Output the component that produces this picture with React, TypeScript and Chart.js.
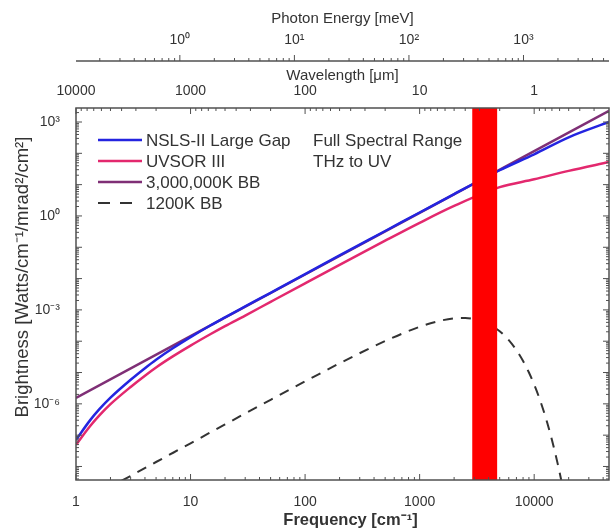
import React, { useEffect, useRef } from 'react';
import { Chart, registerables } from 'chart.js';

Chart.register(...registerables);

// ---------- data ----------
const FREQ = [1, 1.33, 1.6, 2, 3, 4, 5, 7, 10, 15, 20, 30, 50, 100, 200, 500, 1000, 2000, 5000, 10000, 20000, 45000];
const NSLS_II = [7.08e-8, 3.02e-7, 6.76e-7, 1.58e-6, 5.89e-6, 1.38e-5, 2.57e-5, 5.96e-5, 1.35e-4, 3.24e-4, 5.79e-4, 1.29e-3, 3.52e-3, 1.38e-2, 5.5e-2, 0.331, 1.29, 5.01, 28.8, 93.3, 324, 1000];
const UVSOR_III = [4.9e-8, 1.95e-7, 4.27e-7, 9.77e-7, 3.47e-6, 7.94e-6, 1.45e-5, 3.27e-5, 7.24e-5, 1.7e-4, 3.04e-4, 6.61e-4, 1.81e-3, 7.08e-3, 2.75e-2, 0.162, 0.603, 2.09, 8.32, 14.8, 27.5, 52.5];
const FREQ_BB = [1, 10, 100, 1000, 10000, 45000];
const BB_3MK = [1.55e-6, 1.45e-4, 1.35e-2, 1.26, 117, 2290];
const FREQ_1200 = [2.5, 3, 5, 10, 20, 50, 100, 200, 500, 1000, 1500, 2000, 2500, 3000, 4000, 5000, 6000, 7000, 8000, 9000, 10000, 11000, 12000, 13000, 14000, 15000, 16000, 17000, 18000];
const BB_1200 = [3.5e-9, 5.0e-9, 1.39e-8, 5.5e-8, 2.2e-7, 1.35e-6, 5.2e-6, 1.97e-5, 1.01e-4, 2.88e-4, 4.47e-4, 5.33e-4, 5.47e-4, 5.07e-4, 3.56e-4, 2.08e-4, 1.08e-4, 5.18e-5, 2.33e-5, 1.0e-5, 4.13e-6, 1.66e-6, 6.5e-7, 2.49e-7, 9.4e-8, 3.48e-8, 1.28e-8, 4.61e-9, 1.65e-9];

const SERIES_NAMES = ['NSLS-II Large Gap', 'UVSOR III', '3,000,000K BB', '1200K BB'];
const NOTE_LINES = ['Full Spectral Range', 'THz to UV'];
const X_TITLE = 'Frequency [cm⁻¹]';
const Y_TITLE = 'Brightness [Watts/cm⁻¹/mrad²/cm²]';

const FREQ_RANGE = [1, 45000];
const BRIGHT_RANGE = [3.7e-9, 2800];
const BAND = [2880, 4750];
const UM_PER_INV_CM = 10000; // wavelength[um] = 10000 / freq[cm-1]
const MEV_PER_INV_CM = 0.12398;

const FREQ_LABELS = [1, 10, 100, 1000, 10000];
const WAVELENGTH_LABELS = [10000, 1000, 100, 10, 1];
const ENERGY_LABELS = [1, 10, 100, 1000];
const BRIGHT_LABELS = [1e3, 1, 1e-3, 1e-6];

// ---------- styles ----------
const FAMILY = "'Liberation Sans', Arial, Helvetica, sans-serif";
const TEXT = '#333333';
const BLUE = '#2424e0';
const PINK = '#e3286e';
const PURPLE = '#7f2f76';
const DASH = '#333333';
const FRAME = '#505050';

const SUP: Record<string, string> = { '-': '⁻', '0': '⁰', '1': '¹', '2': '²', '3': '³', '4': '⁴', '5': '⁵', '6': '⁶', '7': '⁷', '8': '⁸', '9': '⁹' };
const sup = (n: number) => String(n).split('').map((c) => SUP[c] || c).join('');
const near = (v: number, list: number[]) => list.find((l) => Math.abs(Math.log10(v) - Math.log10(l)) < 1e-6);

const logTicks = (min: number, max: number) => {
  const out: { v: number; major: boolean }[] = [];
  for (let e = Math.floor(Math.log10(min)); e <= Math.ceil(Math.log10(max)); e++) {
    for (let k = 1; k < 10; k++) {
      const v = k * Math.pow(10, e);
      if (v >= min * (1 - 1e-9) && v <= max * (1 + 1e-9)) out.push({ v, major: k === 1 });
    }
  }
  return out;
};

const zeroPad = (s: any) => {
  s.paddingLeft = 0;
  s.paddingRight = 0;
  s.paddingTop = 0;
  s.paddingBottom = 0;
};

const decorPlugin = {
  id: 'decor',
  afterDatasetsDraw(chart: any) {
    const { ctx, chartArea: ca, scales } = chart;
    const x = scales.x, y = scales.y, x2 = scales.x2, x3 = scales.x3;
    ctx.save();

    // legend
    const rows = [
      { color: BLUE, dash: [] as number[], width: 2.5 },
      { color: PINK, dash: [], width: 2.5 },
      { color: PURPLE, dash: [], width: 2.5 },
      { color: DASH, dash: [12, 10], width: 2 },
    ];
    ctx.font = `17px ${FAMILY}`;
    ctx.textBaseline = 'middle';
    ctx.textAlign = 'left';
    rows.forEach((r, i) => {
      const yy = ca.top + 32 + i * 21;
      ctx.beginPath();
      ctx.setLineDash(r.dash);
      ctx.strokeStyle = r.color;
      ctx.lineWidth = r.width;
      ctx.moveTo(ca.left + 22, yy);
      ctx.lineTo(ca.left + 66, yy);
      ctx.stroke();
      ctx.setLineDash([]);
      ctx.fillStyle = TEXT;
      ctx.fillText(SERIES_NAMES[i], ca.left + 70, yy + 1);
    });
    NOTE_LINES.forEach((t, i) => {
      ctx.fillText(t, ca.left + 237, ca.top + 33 + i * 21);
    });

    // red band
    const b0 = x.getPixelForValue(BAND[0]);
    const b1 = x.getPixelForValue(BAND[1]);
    ctx.fillStyle = '#ff0000';
    ctx.fillRect(b0, ca.top, b1 - b0, ca.bottom - ca.top);

    // frame
    ctx.strokeStyle = FRAME;
    ctx.lineWidth = 1.5;
    ctx.strokeRect(ca.left, ca.top, ca.right - ca.left, ca.bottom - ca.top);
    // energy axis line
    ctx.beginPath();
    ctx.moveTo(ca.left, x3.bottom);
    ctx.lineTo(ca.right, x3.bottom);
    ctx.stroke();

    // ticks
    ctx.lineWidth = 1;
    ctx.beginPath();
    for (const t of logTicks(x.min, x.max)) {
      const p = x.getPixelForValue(t.v);
      const l = t.major ? 6 : 3;
      ctx.moveTo(p, ca.bottom);
      ctx.lineTo(p, ca.bottom - l);
    }
    for (const t of logTicks(x2.min, x2.max)) {
      const p = x2.getPixelForValue(t.v);
      const l = t.major ? 6 : 3;
      ctx.moveTo(p, ca.top);
      ctx.lineTo(p, ca.top + l);
    }
    for (const t of logTicks(x3.min, x3.max)) {
      const p = x3.getPixelForValue(t.v);
      const l = t.major ? 6 : 3;
      ctx.moveTo(p, x3.bottom);
      ctx.lineTo(p, x3.bottom - l);
    }
    for (const t of logTicks(y.min, y.max)) {
      const p = y.getPixelForValue(t.v);
      const l = t.major ? 6 : 3;
      ctx.moveTo(ca.left, p);
      ctx.lineTo(ca.left + l, p);
      ctx.moveTo(ca.right, p);
      ctx.lineTo(ca.right - l, p);
    }
    ctx.stroke();

    // x title
    ctx.fillStyle = TEXT;
    ctx.textAlign = 'center';
    ctx.textBaseline = 'middle';
    ctx.font = `bold 16.5px ${FAMILY}`;
    ctx.fillText(X_TITLE, (ca.left + ca.right) / 2 + 8, ca.bottom + 40);

    // y title
    ctx.translate(23, (ca.top + ca.bottom) / 2 - 17);
    ctx.rotate(-Math.PI / 2);
    ctx.font = `18.5px ${FAMILY}`;
    ctx.fillText(Y_TITLE, 0, 0);
    ctx.restore();
  },
};

export default function App() {
  const ref = useRef<HTMLCanvasElement>(null);

  useEffect(() => {
    document.body.style.margin = '0';
    const tickFont = { family: FAMILY, size: 14 };
    const chart = new Chart(ref.current as HTMLCanvasElement, {
      type: 'line',
      data: {
        datasets: [
          {
            label: SERIES_NAMES[0],
            data: FREQ.map((f, i) => ({ x: f, y: NSLS_II[i] })),
            borderColor: BLUE,
            borderWidth: 2.5,
            pointRadius: 0,
            cubicInterpolationMode: 'monotone',
          },
          {
            label: SERIES_NAMES[1],
            data: FREQ.map((f, i) => ({ x: f, y: UVSOR_III[i] })),
            borderColor: PINK,
            borderWidth: 2.5,
            pointRadius: 0,
            cubicInterpolationMode: 'monotone',
          },
          {
            label: SERIES_NAMES[2],
            data: FREQ_BB.map((f, i) => ({ x: f, y: BB_3MK[i] })),
            borderColor: PURPLE,
            borderWidth: 2.5,
            pointRadius: 0,
          },
          {
            label: SERIES_NAMES[3],
            data: FREQ_1200.map((f, i) => ({ x: f, y: BB_1200[i] })),
            borderColor: DASH,
            borderWidth: 2,
            borderDash: [10, 8],
            pointRadius: 0,
            cubicInterpolationMode: 'monotone',
          },
        ] as any,
      },
      options: {
        responsive: false,
        animation: false,
        devicePixelRatio: 1,
        events: [],
        layout: { padding: { left: 0, right: 2, top: 0, bottom: 0 } },
        plugins: { legend: { display: false }, tooltip: { enabled: false } },
        scales: {
          x: {
            type: 'logarithmic',
            position: 'bottom',
            min: FREQ_RANGE[0],
            max: FREQ_RANGE[1],
            grid: { display: false },
            border: { display: false },
            ticks: {
              autoSkip: false,
              maxRotation: 0,
              padding: 6,
              color: TEXT,
              font: tickFont,
              callback: (v: any) => {
                const m = near(Number(v), FREQ_LABELS);
                return m ? String(m) : '';
              },
            },
            title: { display: false },
            afterFit: (s: any) => {
              s.height = 51;
              zeroPad(s);
            },
          },
          x2: {
            type: 'logarithmic',
            axis: 'x',
            position: 'top',
            weight: 0,
            reverse: true,
            min: UM_PER_INV_CM / FREQ_RANGE[1],
            max: UM_PER_INV_CM / FREQ_RANGE[0],
            grid: { display: false },
            border: { display: false },
            ticks: {
              autoSkip: false,
              maxRotation: 0,
              padding: 0,
              color: TEXT,
              font: tickFont,
              callback: (v: any) => {
                const m = near(Number(v), WAVELENGTH_LABELS);
                return m ? String(m) : '';
              },
            },
            title: {
              display: true,
              text: 'Wavelength [μm]',
              color: TEXT,
              font: { family: FAMILY, size: 15 },
              padding: { top: 6, bottom: 0 },
            },
            afterFit: (s: any) => {
              s.height = 47;
              zeroPad(s);
            },
          },
          x3: {
            type: 'logarithmic',
            axis: 'x',
            position: 'top',
            weight: 1,
            min: MEV_PER_INV_CM * FREQ_RANGE[0],
            max: MEV_PER_INV_CM * FREQ_RANGE[1],
            grid: { display: false },
            border: { display: false },
            ticks: {
              autoSkip: false,
              maxRotation: 0,
              padding: 4,
              color: TEXT,
              font: tickFont,
              callback: (v: any) => {
                const m = near(Number(v), ENERGY_LABELS);
                return m ? '10' + sup(Math.round(Math.log10(m))) : '';
              },
            },
            title: {
              display: true,
              text: 'Photon Energy [meV]',
              color: TEXT,
              font: { family: FAMILY, size: 15 },
              padding: { top: 10, bottom: 0 },
            },
            afterFit: (s: any) => {
              s.height = 61;
              zeroPad(s);
            },
          },
          y: {
            type: 'logarithmic',
            position: 'left',
            min: BRIGHT_RANGE[0],
            max: BRIGHT_RANGE[1],
            grid: { display: false },
            border: { display: false },
            ticks: {
              autoSkip: false,
              padding: 8,
              color: TEXT,
              font: tickFont,
              callback: (v: any) => {
                const m = near(Number(v), BRIGHT_LABELS);
                return m ? '10' + sup(Math.round(Math.log10(m))) : '';
              },
            },
            title: { display: false },
            afterFit: (s: any) => {
              s.width = 76;
              zeroPad(s);
            },
          },
        } as any,
      },
      plugins: [decorPlugin],
    });
    return () => chart.destroy();
  }, []);

  return (
    <div style={{ width: 611, height: 531, background: '#ffffff' }}>
      <canvas ref={ref} width={611} height={531} style={{ display: 'block' }} />
    </div>
  );
}
